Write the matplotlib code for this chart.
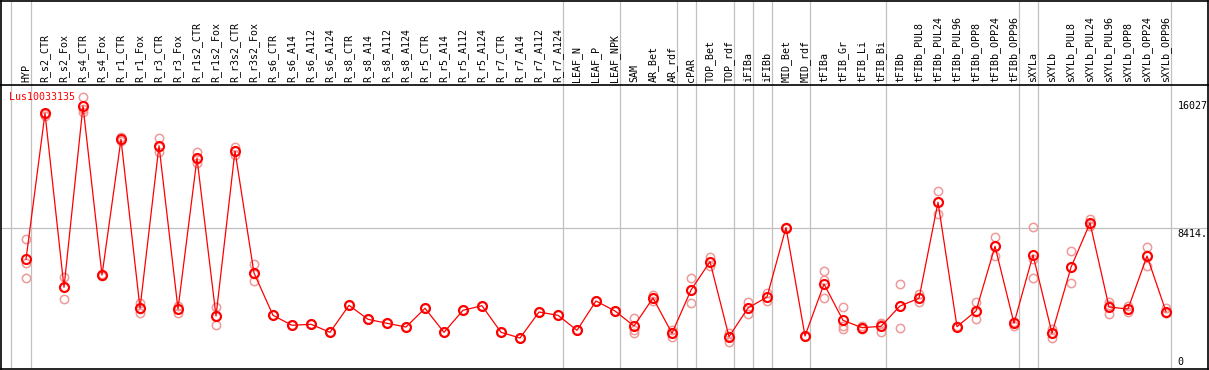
import matplotlib
matplotlib.use('Agg')
import matplotlib.pyplot as plt
import matplotlib.transforms as mtransforms
import numpy as np

# Amostras (eixo x) e valores de expressão
amostras = ['HYP', 'R_s2_CTR', 'R_s2_Fox', 'R_s4_CTR', 'R_s4_Fox', 'R_r1_CTR', 'R_r1_Fox',
            'R_r3_CTR', 'R_r3_Fox', 'R_r1s2_CTR', 'R_r1s2_Fox', 'R_r3s2_CTR', 'R_r3s2_Fox',
            'R_s6_CTR', 'R_s6_A14', 'R_s6_A112', 'R_s6_A124', 'R_s8_CTR', 'R_s8_A14',
            'R_s8_A112', 'R_s8_A124', 'R_r5_CTR', 'R_r5_A14', 'R_r5_A112', 'R_r5_A124',
            'R_r7_CTR', 'R_r7_A14', 'R_r7_A112', 'R_r7_A124', 'LEAF_N', 'LEAF_P', 'LEAF_NPK',
            'SAM', 'AR_Bet', 'AR_rdf', 'cPAR', 'TOP_Bet', 'TOP_rdf', 'iFIBa', 'iFIBb',
            'MID_Bet', 'MID_rdf', 'tFIBa', 'tFIB_Gr', 'tFIB_Li', 'tFIB_Bi', 'tFIBb',
            'tFIBb_PUL8', 'tFIBb_PUL24', 'tFIBb_PUL96', 'tFIBb_OPP8', 'tFIBb_OPP24',
            'tFIBb_OPP96', 'sXYLa', 'sXYLb', 'sXYLb_PUL8', 'sXYLb_PUL24', 'sXYLb_PUL96',
            'sXYLb_OPP8', 'sXYLb_OPP24', 'sXYLb_OPP96']

media = [6429, 15569, 4676, 16027, 5446, 13941, 3362, 13540, 3318, 12752, 2880, 13209, 5571,
         2923, 2297, 2360, 1859, 3549, 2673, 2423, 2191, 3362, 1859, 3236, 3524,
         1859, 1502, 3130, 2923, 1984, 3819, 3193,
         2254, 4006, 1797, 4507, 6279, 1584, 3380, 4069,
         8414, 1628, 4883, 2610, 2147, 2235, 3506,
         3988, 9997, 2210, 3193, 7243, 2423,
         6698, 1797, 5928, 8701, 3443, 3318, 6636, 3149]

# replicatas (3 por amostra)
replicatas = [[7681, 6216, 5240], [15587, 15525, 15400], [5340, 4695, 3925],
              [16570, 15842, 15669], [5490, 5446, 5400], [14104, 13897, 13835],
              [3675, 3318, 3086], [14041, 13459, 13127], [3506, 3349, 3086],
              [13146, 12708, 12459], [3424, 2911, 2297], [13478, 13209, 12940],
              [6135, 5509, 5071],
              [2923, 2923, 2923], [2297, 2297, 2297], [2360, 2360, 2360], [1859, 1859, 1859],
              [3549, 3549, 3549], [2673, 2673, 2673], [2423, 2423, 2423], [2191, 2191, 2191],
              [3362, 3362, 3362], [1859, 1859, 1859], [3236, 3236, 3236], [3524, 3524, 3524],
              [1859, 1859, 1859], [1502, 1502, 1502], [3130, 3130, 3130], [2923, 2923, 2923],
              [1984, 1984, 1984], [3819, 3819, 3819], [3193, 3193, 3193],
              [2754, 2003, 1797], [4175, 4006, 3837], [2003, 1797, 1584],
              [5240, 4507, 3693], [6554, 6260, 6028], [1834, 1628, 1271],
              [3756, 3380, 3005], [4301, 4069, 3837],
              [8450, 8414, 8380], [1650, 1628, 1600], [5697, 5133, 4006],
              [3443, 2254, 2085], [2272, 2147, 2047], [2423, 2398, 1878],
              [4864, 3506, 2128], [4257, 4006, 3775], [10686, 10016, 9246],
              [2240, 2210, 2180], [3756, 3161, 2673], [7825, 7243, 6654],
              [2504, 2504, 2272], [8451, 6429, 5240], [2066, 1797, 1521],
              [6949, 5916, 4927], [8933, 8670, 8514], [3756, 3568, 3024],
              [3524, 3318, 3111], [7199, 6698, 5991], [3362, 3067, 3049]]

# separadores de grupos (depois destes índices)
separadores = [0, 28, 31, 34, 35, 37, 38, 39, 41, 45, 52, 53, 60]
gene = 'Lus10033135'
ticks_y = [(16027, '16027'), (8414, '8414.'), (0, '0')]

W, H = 1209, 370
fig = plt.figure(figsize=(W / 100, H / 100), dpi=100)
fonte = 'DejaVu Sans Mono'
cinza = '#c0c0c0'

x = np.arange(len(amostras))
xlim = (-1.316, 62.21)

# painel dos nomes (topo)
ax_top = fig.add_axes([1 / W, 1 - 85 / H, 1207 / W, 85 / H - 0.5 / H])
ax_top.set_xlim(xlim)
ax_top.set_ylim(0, 1)
ax_top.set_xticks([])
ax_top.set_yticks([])
for s in ax_top.spines.values():
    s.set_color('black')
    s.set_linewidth(1.2)
ax_top.spines['bottom'].set_visible(False)
for i, nome in enumerate(amostras):
    ax_top.text(i, 0.03, nome, rotation=90, ha='center', va='bottom',
                fontsize=7.2, family=fonte, color='black')

# painel principal
ax = fig.add_axes([1 / W, 1 / H, 1207 / W, 284 / H])
ax.set_xlim(xlim)
ax.set_ylim(-438, 17340)
ax.set_xticks([])
ax.set_yticks([])
for s in ax.spines.values():
    s.set_color('black')
    s.set_linewidth(1.2)

for a in (ax, ax_top):
    a.axvline(-0.8, color=cinza, lw=0.9, zorder=0)
    for k in separadores:
        a.axvline(k + 0.25, color=cinza, lw=0.9, zorder=0)
ax.axhline(8414, color=cinza, lw=0.9, zorder=0)

rep = np.array(replicatas)
for j in range(rep.shape[1]):
    ax.plot(x, rep[:, j], 'o', ms=6.0, mfc='none', mec='#ee9a9a', mew=1.1, zorder=2)
ax.plot(x, media, '-', color='red', lw=0.9, zorder=3)
ax.plot(x, media, 'o', ms=6.5, mfc='none', mec='red', mew=1.5, zorder=4)

ax.text(0.007, 0.959, gene, transform=ax.transAxes, ha='left', va='center',
        fontsize=7.2, family=fonte, color='red')

trans = mtransforms.blended_transform_factory(ax.transAxes, ax.transData)
for v, rot in ticks_y:
    va = 'top' if rot.endswith('.') else 'center'
    yv = v - 60 if va == 'top' else v
    ax.text(0.975, yv, rot, transform=trans, ha='left', va=va,
            fontsize=7.2, family=fonte, color='black', clip_on=True)

fig.savefig('out.png', dpi=100)
